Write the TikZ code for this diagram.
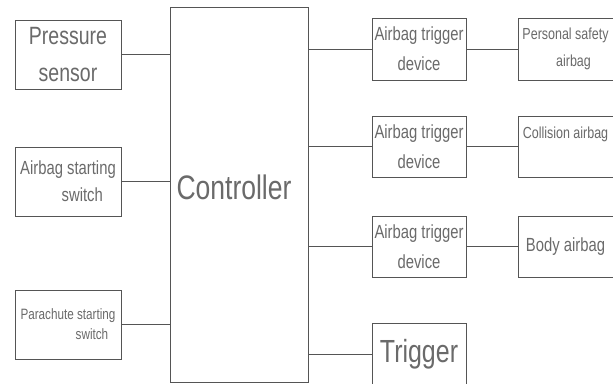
\documentclass[tikz,border=0pt]{standalone}
\usepackage{fontspec}
\setmainfont{Liberation Sans}[FakeStretch=0.78]
\usetikzlibrary{positioning,calc}
\definecolor{linegray}{HTML}{555555}
\definecolor{textgray}{HTML}{6A6A6A}
\tikzset{%
  box/.style={draw=linegray,line width=1pt,inner sep=0pt,align=center,text=textgray},
  link/.style={draw=linegray,line width=1pt}%
}

\begin{document}
\begin{tikzpicture}[x=1pt,y=-1pt]
\clip (0,0) rectangle (613,383);
\fill[white] (0,0) rectangle (613,383);

% Inputs on the left
\node[box,minimum width=106pt,minimum height=69pt,font=\fontsize{25}{37}\selectfont] (press) at (68,54.5) {Pressure\\sensor};
\node[box,minimum width=106pt,minimum height=69pt,font=\fontsize{19}{27}\selectfont] (airsw) at (68,181.5) {Airbag starting\\\hspace*{1.5em}switch};
\node[box,minimum width=106pt,minimum height=69pt,font=\fontsize{15}{20}\selectfont] (chutesw) at (68,324.5) {Parachute starting\\\hspace*{3.2em}switch};

% Controller block
\node[box,minimum width=138pt,minimum height=375pt] (ctrl) at (239,194.5) {};
\node[text=textgray,font=\fontsize{34}{36}\selectfont,inner sep=0pt] (ctrltxt) at (234,187) {Controller};

% Trigger devices
\node[box,minimum width=94pt,minimum height=62pt,font=\fontsize{19}{30}\selectfont] (trig1) at (419,49) {Airbag trigger\\device};
\node[box,minimum width=94pt,minimum height=61pt,font=\fontsize{19}{30}\selectfont] (trig2) at (419,146.5) {Airbag trigger\\device};
\node[box,minimum width=94pt,minimum height=61pt,font=\fontsize{19}{30}\selectfont] (trig3) at (419,246.5) {Airbag trigger\\device};
\node[box,minimum width=94pt,minimum height=62pt,font=\fontsize{32}{34}\selectfont] (trigger) at (419,354) {Trigger};

% Airbags on the right
\node[box,minimum width=95pt,minimum height=62pt,font=\fontsize{16}{27}\selectfont] (bag1) at (565.5,49) {Personal safety\\\hspace*{1em}airbag};
\node[box,minimum width=95pt,minimum height=61pt,font=\fontsize{16}{20}\selectfont] (bag2) at (565.5,146.5) {Collision airbag\\[8pt]};
\node[box,minimum width=95pt,minimum height=61pt,font=\fontsize{19}{22}\selectfont] (bag3) at (565.5,246.5) {Body airbag};

% Connections
\draw[link] (press.east) -- (press.east -| ctrl.west);
\draw[link] (airsw.east) -- (airsw.east -| ctrl.west);
\draw[link] (chutesw.east) -- (chutesw.east -| ctrl.west);
\foreach \t in {trig1,trig2,trig3,trigger}
  \draw[link] (ctrl.east |- \t.west) -- (\t.west);
\draw[link] (trig1) -- (bag1);
\draw[link] (trig2) -- (bag2);
\draw[link] (trig3) -- (bag3);
\end{tikzpicture}
\end{document}
